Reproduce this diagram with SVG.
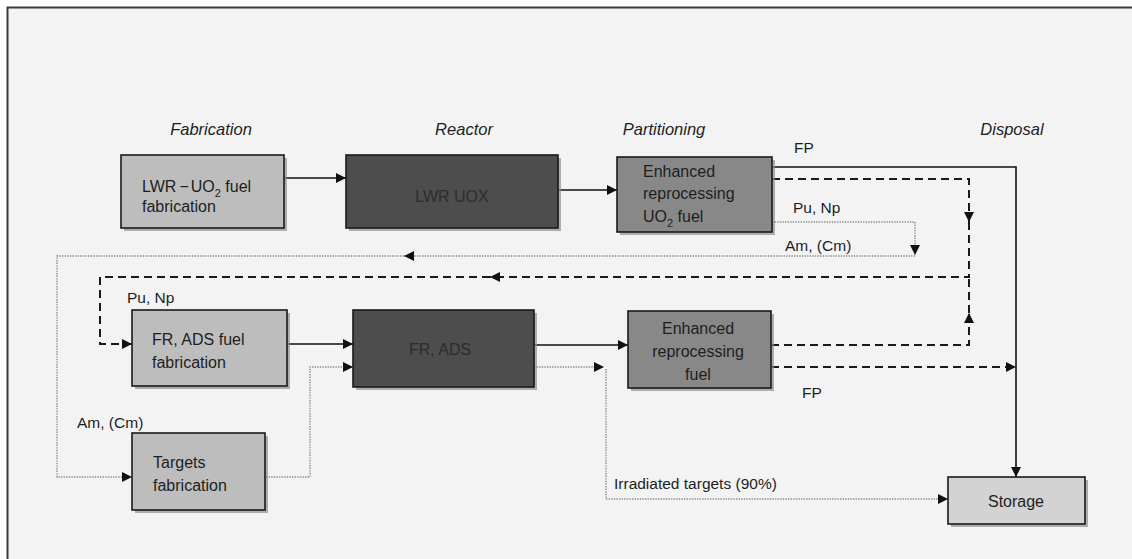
<svg xmlns="http://www.w3.org/2000/svg" width="1132" height="559" viewBox="0 0 1132 559">
  <defs>
    <style>
      text { font-family: "Liberation Sans", Arial, sans-serif; font-size: 16px; fill: #1e1e1e; }
      .head { font-style: italic; font-size: 16.5px; text-anchor: middle; }
      .lbl { font-size: 15.5px; }
      .mid { text-anchor: middle; }
      .dark { fill: #2c2c2c; }
      .sub { font-size: 11px; }
      .box { stroke: #1a1a1a; stroke-width: 1.6; }
      .shadow { fill: #8f8f8f; opacity: 0.7; }
      .light { fill: #bdbdbd; }
      .reactor { fill: #4d4d4d; }
      .reproc { fill: #888888; }
      .store { fill: #d3d3d3; }
      .solid { fill: none; stroke: #111; stroke-width: 1.6; }
      .dash { fill: none; stroke: #1a1a1a; stroke-width: 2; stroke-dasharray: 8 5; }
      .dot { fill: none; stroke: #8c8c8c; stroke-width: 1.4; stroke-dasharray: 1.4 1.2; }
    </style>
    <marker id="arrow" viewBox="0 0 10 10" refX="10" refY="5" markerUnits="userSpaceOnUse" markerWidth="11" markerHeight="10" orient="auto">
      <path d="M0,0 L10,5 L0,10 z" fill="#111"/>
    </marker>
  </defs>

  <!-- page and frame -->
  <rect x="0" y="0" width="1132" height="559" fill="#ffffff"/>
  <rect x="7.5" y="7.5" width="1140" height="570" fill="#f3f3f3" stroke="#3a3a3a" stroke-width="2"/>

  <!-- column headings -->
  <g id="headings">
    <text class="head" x="211" y="135">Fabrication</text>
    <text class="head" x="464" y="135">Reactor</text>
    <text class="head" x="664" y="135">Partitioning</text>
    <text class="head" x="1012" y="135">Disposal</text>
  </g>

  <!-- connectors -->
  <g id="connectors">
    <!-- fuel route, first row -->
    <path class="solid" d="M284 178 H346" marker-end="url(#arrow)"/>
    <path class="solid" d="M558 190 H617" marker-end="url(#arrow)"/>
    <!-- fission products to storage -->
    <path class="solid" d="M772 167 H1016 V477" marker-end="url(#arrow)"/>
    <!-- Pu, Np recycle (dashed) -->
    <path class="dash" d="M772 179 H969 V222" marker-end="url(#arrow)"/>
    <path class="dash" d="M969 222 V277 H490" marker-end="url(#arrow)"/>
    <path class="dash" d="M490 277 H100 V344 H132" marker-end="url(#arrow)"/>
    <!-- return from second reprocessing -->
    <path class="dash" d="M771 345 H969 V313" marker-end="url(#arrow)"/>
    <path class="dash" d="M969 313 V277"/>
    <path class="dash" d="M771 367 H1016" marker-end="url(#arrow)"/>
    <!-- minor actinides (dotted) -->
    <path class="dot" d="M772 222 H915 V255" marker-end="url(#arrow)"/>
    <path class="dot" d="M915 256 H404" marker-end="url(#arrow)"/>
    <path class="dot" d="M404 256 H57 V477 H132" marker-end="url(#arrow)"/>
    <path class="dot" d="M266 477 H310 V367 H353" marker-end="url(#arrow)"/>
    <!-- second row fuel route -->
    <path class="solid" d="M287 344 H353" marker-end="url(#arrow)"/>
    <path class="solid" d="M534 345 H628" marker-end="url(#arrow)"/>
    <!-- irradiated targets -->
    <path class="dot" d="M534 367 H604" marker-end="url(#arrow)"/>
    <path class="dot" d="M606 369 V499 H948" marker-end="url(#arrow)"/>
  </g>

  <!-- connector labels -->
  <g id="labels">
    <text class="lbl" x="794" y="153">FP</text>
    <text class="lbl" x="793" y="213">Pu, Np</text>
    <text class="lbl" x="785" y="251">Am, (Cm)</text>
    <text class="lbl" x="127" y="303">Pu, Np</text>
    <text class="lbl" x="77" y="428">Am, (Cm)</text>
    <text class="lbl" x="802" y="398">FP</text>
    <text class="lbl" x="614" y="489">Irradiated targets (90%)</text>
  </g>

  <!-- nodes -->
  <g id="lwr-fuel-fabrication">
    <rect class="shadow" x="124" y="158" width="163" height="73"/>
    <rect class="box light" x="121" y="155" width="163" height="73"/>
    <text x="142" y="192">LWR<tspan dx="3">−</tspan><tspan dx="2">UO</tspan><tspan class="sub" dy="5">2</tspan><tspan dy="-5"> fuel</tspan></text>
    <text x="142" y="212">fabrication</text>
  </g>

  <g id="lwr-uox">
    <rect class="shadow" x="349" y="158" width="212" height="73"/>
    <rect class="box reactor" x="346" y="155" width="212" height="73"/>
    <text class="mid dark" x="452" y="202">LWR UOX</text>
  </g>

  <g id="reprocessing-uo2">
    <rect class="shadow" x="620" y="160" width="155" height="75"/>
    <rect class="box reproc" x="617" y="157" width="155" height="75"/>
    <text x="643" y="177">Enhanced</text>
    <text x="643" y="199">reprocessing</text>
    <text x="643" y="222">UO<tspan class="sub" dy="5">2</tspan><tspan dy="-5"> fuel</tspan></text>
  </g>

  <g id="fr-ads-fuel-fabrication">
    <rect class="shadow" x="135" y="313" width="155" height="76"/>
    <rect class="box light" x="132" y="310" width="155" height="76"/>
    <text x="152" y="345">FR, ADS fuel</text>
    <text x="152" y="368">fabrication</text>
  </g>

  <g id="fr-ads">
    <rect class="shadow" x="356" y="313" width="181" height="77"/>
    <rect class="box reactor" x="353" y="310" width="181" height="77"/>
    <text class="mid dark" x="440" y="355">FR, ADS</text>
  </g>

  <g id="reprocessing-fuel">
    <rect class="shadow" x="631" y="314" width="143" height="77"/>
    <rect class="box reproc" x="628" y="311" width="143" height="77"/>
    <text class="mid" x="698" y="334">Enhanced</text>
    <text class="mid" x="698" y="357">reprocessing</text>
    <text class="mid" x="698" y="380">fuel</text>
  </g>

  <g id="targets-fabrication">
    <rect class="shadow" x="135" y="436" width="133" height="77"/>
    <rect class="box light" x="132" y="433" width="133" height="77"/>
    <text x="153" y="468">Targets</text>
    <text x="153" y="491">fabrication</text>
  </g>

  <g id="storage">
    <rect class="shadow" x="951" y="480" width="137" height="47"/>
    <rect class="box store" x="948" y="477" width="137" height="47"/>
    <text class="mid" x="1016" y="507">Storage</text>
  </g>
</svg>
